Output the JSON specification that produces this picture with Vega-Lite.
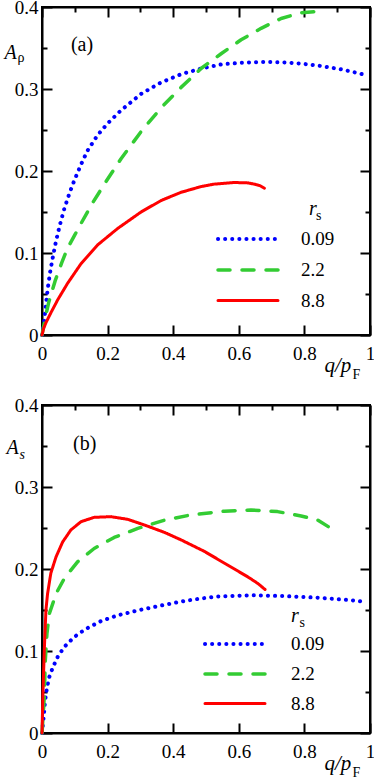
{
 "$schema": "https://vega.github.io/schema/vega-lite/v6.json",
 "padding": {"left": 3, "top": -3, "right": 2, "bottom": 0},
 "background": "white",
 "bounds": "flush",
 "spacing": 70,
 "resolve": {"scale": {"color": "independent", "strokeDash": "independent", "strokeWidth": "independent"}, "legend": {"color": "independent", "strokeDash": "independent", "strokeWidth": "independent"}},
 "datasets": {
  "a": [
   {"rs":"0.09","q":0,"A":0},{"rs":"0.09","q":0.005,"A":0.012},{"rs":"0.09","q":0.007,"A":0.018},{"rs":"0.09","q":0.012,"A":0.037},{"rs":"0.09","q":0.017,"A":0.055},{"rs":"0.09","q":0.024,"A":0.075},{"rs":"0.09","q":0.033,"A":0.095},{"rs":"0.09","q":0.043,"A":0.115},{"rs":"0.09","q":0.055,"A":0.135},{"rs":"0.09","q":0.068,"A":0.154},{"rs":"0.09","q":0.083,"A":0.172},{"rs":"0.09","q":0.098,"A":0.188},{"rs":"0.09","q":0.119,"A":0.208},{"rs":"0.09","q":0.139,"A":0.225},{"rs":"0.09","q":0.17,"A":0.244},{"rs":"0.09","q":0.2,"A":0.258},{"rs":"0.09","q":0.241,"A":0.274},{"rs":"0.09","q":0.302,"A":0.294},{"rs":"0.09","q":0.363,"A":0.308},{"rs":"0.09","q":0.424,"A":0.318},{"rs":"0.09","q":0.485,"A":0.325},{"rs":"0.09","q":0.546,"A":0.33},{"rs":"0.09","q":0.607,"A":0.332},{"rs":"0.09","q":0.668,"A":0.333},{"rs":"0.09","q":0.729,"A":0.3326},{"rs":"0.09","q":0.79,"A":0.331},{"rs":"0.09","q":0.851,"A":0.328},{"rs":"0.09","q":0.912,"A":0.324},{"rs":"0.09","q":0.978,"A":0.318},
   {"rs":"2.2","q":0,"A":0},{"rs":"2.2","q":0.01,"A":0.021},{"rs":"2.2","q":0.02,"A":0.039},{"rs":"2.2","q":0.04,"A":0.066},{"rs":"2.2","q":0.06,"A":0.088},{"rs":"2.2","q":0.078,"A":0.106},{"rs":"2.2","q":0.1,"A":0.122},{"rs":"2.2","q":0.119,"A":0.136},{"rs":"2.2","q":0.154,"A":0.161},{"rs":"2.2","q":0.195,"A":0.187},{"rs":"2.2","q":0.241,"A":0.215},{"rs":"2.2","q":0.302,"A":0.248},{"rs":"2.2","q":0.363,"A":0.277},{"rs":"2.2","q":0.424,"A":0.302},{"rs":"2.2","q":0.485,"A":0.325},{"rs":"2.2","q":0.546,"A":0.343},{"rs":"2.2","q":0.607,"A":0.36},{"rs":"2.2","q":0.668,"A":0.374},{"rs":"2.2","q":0.729,"A":0.386},{"rs":"2.2","q":0.79,"A":0.393},{"rs":"2.2","q":0.851,"A":0.395},
   {"rs":"8.8","q":0,"A":0},{"rs":"8.8","q":0.005,"A":0.008},{"rs":"8.8","q":0.012,"A":0.015},{"rs":"8.8","q":0.027,"A":0.027},{"rs":"8.8","q":0.048,"A":0.043},{"rs":"8.8","q":0.078,"A":0.063},{"rs":"8.8","q":0.119,"A":0.087},{"rs":"8.8","q":0.17,"A":0.11},{"rs":"8.8","q":0.231,"A":0.13},{"rs":"8.8","q":0.302,"A":0.15},{"rs":"8.8","q":0.363,"A":0.164},{"rs":"8.8","q":0.424,"A":0.174},{"rs":"8.8","q":0.485,"A":0.181},{"rs":"8.8","q":0.525,"A":0.184},{"rs":"8.8","q":0.586,"A":0.186},{"rs":"8.8","q":0.627,"A":0.1855},{"rs":"8.8","q":0.647,"A":0.184},{"rs":"8.8","q":0.665,"A":0.182},{"rs":"8.8","q":0.678,"A":0.179}
  ],
  "b": [
   {"rs":"0.09","q":0,"A":0},{"rs":"0.09","q":0.005,"A":0.019},{"rs":"0.09","q":0.009,"A":0.038},{"rs":"0.09","q":0.015,"A":0.055},{"rs":"0.09","q":0.022,"A":0.068},{"rs":"0.09","q":0.033,"A":0.08},{"rs":"0.09","q":0.048,"A":0.093},{"rs":"0.09","q":0.068,"A":0.105},{"rs":"0.09","q":0.098,"A":0.117},{"rs":"0.09","q":0.134,"A":0.127},{"rs":"0.09","q":0.18,"A":0.1365},{"rs":"0.09","q":0.231,"A":0.1435},{"rs":"0.09","q":0.292,"A":0.1495},{"rs":"0.09","q":0.363,"A":0.1555},{"rs":"0.09","q":0.434,"A":0.161},{"rs":"0.09","q":0.485,"A":0.164},{"rs":"0.09","q":0.535,"A":0.1665},{"rs":"0.09","q":0.637,"A":0.168},{"rs":"0.09","q":0.739,"A":0.167},{"rs":"0.09","q":0.84,"A":0.165},{"rs":"0.09","q":0.942,"A":0.162},{"rs":"0.09","q":0.983,"A":0.16},
   {"rs":"2.2","q":0,"A":0},{"rs":"2.2","q":0.007,"A":0.044},{"rs":"2.2","q":0.01,"A":0.088},{"rs":"2.2","q":0.015,"A":0.121},{"rs":"2.2","q":0.022,"A":0.145},{"rs":"2.2","q":0.043,"A":0.17},{"rs":"2.2","q":0.068,"A":0.1885},{"rs":"2.2","q":0.109,"A":0.209},{"rs":"2.2","q":0.159,"A":0.225},{"rs":"2.2","q":0.22,"A":0.2385},{"rs":"2.2","q":0.292,"A":0.2495},{"rs":"2.2","q":0.373,"A":0.2595},{"rs":"2.2","q":0.454,"A":0.266},{"rs":"2.2","q":0.556,"A":0.2705},{"rs":"2.2","q":0.637,"A":0.272},{"rs":"2.2","q":0.718,"A":0.27},{"rs":"2.2","q":0.79,"A":0.2647},{"rs":"2.2","q":0.84,"A":0.2598},{"rs":"2.2","q":0.881,"A":0.2496},
   {"rs":"8.8","q":0,"A":0},{"rs":"8.8","q":0.003,"A":0.05},{"rs":"8.8","q":0.007,"A":0.101},{"rs":"8.8","q":0.012,"A":0.15},{"rs":"8.8","q":0.017,"A":0.17},{"rs":"8.8","q":0.027,"A":0.195},{"rs":"8.8","q":0.043,"A":0.215},{"rs":"8.8","q":0.063,"A":0.233},{"rs":"8.8","q":0.088,"A":0.2476},{"rs":"8.8","q":0.119,"A":0.2577},{"rs":"8.8","q":0.159,"A":0.263},{"rs":"8.8","q":0.21,"A":0.2638},{"rs":"8.8","q":0.261,"A":0.2606},{"rs":"8.8","q":0.312,"A":0.2537},{"rs":"8.8","q":0.373,"A":0.2447},{"rs":"8.8","q":0.424,"A":0.2355},{"rs":"8.8","q":0.495,"A":0.2215},{"rs":"8.8","q":0.566,"A":0.2048},{"rs":"8.8","q":0.627,"A":0.1905},{"rs":"8.8","q":0.658,"A":0.1824},{"rs":"8.8","q":0.68,"A":0.175}
  ]
 },
 "vconcat": [
  {
   "width": 328, "height": 328,
   "layer": [
    {
     "layer": [
      {
       "data": {"name": "a"},
       "mark": {"type": "line", "strokeCap": "round", "strokeJoin": "round"},
       "encoding": {
        "x": {"field": "q", "type": "quantitative", "scale": {"domain": [0, 1], "nice": false, "zero": false},
              "axis": {"orient": "bottom", "values": [0,0.1,0.2,0.3,0.4,0.5,0.6,0.7,0.8,0.9,1],
                       "labelExpr": "round(datum.value*10)%2==0 ? format(datum.value,'~g') : ''",
                       "tickSize": {"condition": {"test": "round(datum.value*10)%2==0", "value": -10}, "value": -5},
                       "labelPadding": 19,
                       "title": "q/p", "titleFontSize": 21, "titleFontStyle": "italic", "titleX": 282, "titleY": 36, "titleAlign": "left", "titleBaseline": "alphabetic", "titleAngle": 0}},
        "y": {"field": "A", "type": "quantitative", "scale": {"domain": [0, 0.4], "nice": false, "zero": false},
              "axis": {"orient": "left", "values": [0,0.05,0.1,0.15,0.2,0.25,0.3,0.35,0.4],
                       "labelExpr": "round(datum.value*20)%2==0 ? format(datum.value,'~g') : ''",
                       "tickSize": {"condition": {"test": "round(datum.value*20)%2==0", "value": -10}, "value": -5},
                       "labelPadding": 14,
                       "title": "A", "titleFontSize": 20, "titleFontStyle": "italic", "titleX": -38, "titleY": 51, "titleAlign": "left", "titleBaseline": "alphabetic", "titleAngle": 0}},
        "color": {"field": "rs", "type": "ordinal", "scale": {"domain": ["0.09","2.2","8.8"], "range": ["#0000ff","#33cc33","#ff0000"]},
                  "legend": {"orient": "none", "legendX": 194, "legendY": 220, "title": null, "symbolType": "M-3,0H3", "symbolSize": 400, "labelFontSize": 19, "labelOffset": 41, "rowPadding": 9, "padding": 0,
                             "encode": {"symbols": {"update": {"strokeCap": {"value": "round"}}}}}},
        "strokeDash": {"field": "rs", "type": "ordinal", "scale": {"domain": ["0.09","2.2","8.8"], "range": [[0.1,7],[12,12],[1,0]]}},
        "strokeWidth": {"field": "rs", "type": "ordinal", "scale": {"domain": ["0.09","2.2","8.8"], "range": [4,3,2.5]}}
       }
      },
      {
       "data": {"values": [{}]},
       "mark": {"type": "text", "text": "r", "fontSize": 20, "fontStyle": "italic", "align": "left", "baseline": "alphabetic"},
       "encoding": {"x": {"datum": 0.814, "type": "quantitative"}, "y": {"datum": 0.146, "type": "quantitative"}}
      },
      {
       "data": {"values": [{}]},
       "mark": {"type": "text", "text": "s", "fontSize": 14, "align": "left", "baseline": "alphabetic"},
       "encoding": {"x": {"datum": 0.835, "type": "quantitative"}, "y": {"datum": 0.14, "type": "quantitative"}}
      }
     ]
    },
    {
     "data": {"values": [{}]},
     "mark": {"type": "text", "text": "(a)", "fontSize": 20, "align": "center", "baseline": "middle"},
     "encoding": {
      "x": {"datum": 0.122, "type": "quantitative", "scale": {"domain": [0, 1], "nice": false, "zero": false},
            "axis": {"orient": "top", "values": [0,0.1,0.2,0.3,0.4,0.5,0.6,0.7,0.8,0.9,1], "labels": false,
                     "tickSize": {"condition": {"test": "round(datum.value*10)%2==0", "value": -10}, "value": -5},
                     "title": "F", "titleFontSize": 14, "titleFontStyle": "normal", "titleX": 310, "titleY": 371, "titleAlign": "left", "titleBaseline": "alphabetic", "titleAngle": 0}},
      "y": {"datum": 0.354, "type": "quantitative", "scale": {"domain": [0, 0.4], "nice": false, "zero": false},
            "axis": {"orient": "right", "values": [0,0.05,0.1,0.15,0.2,0.25,0.3,0.35,0.4], "labels": false,
                     "tickSize": {"condition": {"test": "round(datum.value*20)%2==0", "value": -10}, "value": -5},
                     "title": "ρ", "titleFontSize": 14, "titleFontStyle": "normal", "titleX": -353, "titleY": 54, "titleAlign": "left", "titleBaseline": "alphabetic", "titleAngle": 0}}
     }
    }
   ],
   "resolve": {"scale": {"x": "independent", "y": "independent"}}
  },
  {
   "width": 328, "height": 328,
   "layer": [
    {
     "layer": [
      {
       "data": {"name": "b"},
       "mark": {"type": "line", "strokeCap": "round", "strokeJoin": "round"},
       "encoding": {
        "x": {"field": "q", "type": "quantitative", "scale": {"domain": [0, 1], "nice": false, "zero": false},
              "axis": {"orient": "bottom", "values": [0,0.1,0.2,0.3,0.4,0.5,0.6,0.7,0.8,0.9,1],
                       "labelExpr": "round(datum.value*10)%2==0 ? format(datum.value,'~g') : ''",
                       "tickSize": {"condition": {"test": "round(datum.value*10)%2==0", "value": -10}, "value": -5},
                       "labelPadding": 19,
                       "title": "q/p", "titleFontSize": 21, "titleFontStyle": "italic", "titleX": 282, "titleY": 36, "titleAlign": "left", "titleBaseline": "alphabetic", "titleAngle": 0}},
        "y": {"field": "A", "type": "quantitative", "scale": {"domain": [0, 0.4], "nice": false, "zero": false},
              "axis": {"orient": "left", "values": [0,0.05,0.1,0.15,0.2,0.25,0.3,0.35,0.4],
                       "labelExpr": "round(datum.value*20)%2==0 ? format(datum.value,'~g') : ''",
                       "tickSize": {"condition": {"test": "round(datum.value*20)%2==0", "value": -10}, "value": -5},
                       "labelPadding": 14,
                       "title": "A", "titleFontSize": 20, "titleFontStyle": "italic", "titleX": -36, "titleY": 48, "titleAlign": "left", "titleBaseline": "alphabetic", "titleAngle": 0}},
        "color": {"field": "rs", "type": "ordinal", "scale": {"domain": ["0.09","2.2","8.8"], "range": ["#0000ff","#33cc33","#ff0000"]},
                  "legend": {"orient": "none", "legendX": 181, "legendY": 227, "title": null, "symbolType": "M-3,0H3", "symbolSize": 400, "labelFontSize": 19, "labelOffset": 44, "rowPadding": 8, "padding": 0,
                             "encode": {"symbols": {"update": {"strokeCap": {"value": "round"}}}}}},
        "strokeDash": {"field": "rs", "type": "ordinal", "scale": {"domain": ["0.09","2.2","8.8"], "range": [[0.1,7],[12,12],[1,0]]}},
        "strokeWidth": {"field": "rs", "type": "ordinal", "scale": {"domain": ["0.09","2.2","8.8"], "range": [4,3,2.5]}}
       }
      },
      {
       "data": {"values": [{}]},
       "mark": {"type": "text", "text": "r", "fontSize": 20, "fontStyle": "italic", "align": "left", "baseline": "alphabetic"},
       "encoding": {"x": {"datum": 0.759, "type": "quantitative"}, "y": {"datum": 0.1355, "type": "quantitative"}}
      },
      {
       "data": {"values": [{}]},
       "mark": {"type": "text", "text": "s", "fontSize": 14, "align": "left", "baseline": "alphabetic"},
       "encoding": {"x": {"datum": 0.785, "type": "quantitative"}, "y": {"datum": 0.129, "type": "quantitative"}}
      }
     ]
    },
    {
     "data": {"values": [{}]},
     "mark": {"type": "text", "text": "(b)", "fontSize": 20, "align": "center", "baseline": "middle"},
     "encoding": {
      "x": {"datum": 0.13, "type": "quantitative", "scale": {"domain": [0, 1], "nice": false, "zero": false},
            "axis": {"orient": "top", "values": [0,0.1,0.2,0.3,0.4,0.5,0.6,0.7,0.8,0.9,1], "labels": false,
                     "tickSize": {"condition": {"test": "round(datum.value*10)%2==0", "value": -10}, "value": -5},
                     "title": "F", "titleFontSize": 14, "titleFontStyle": "normal", "titleX": 310, "titleY": 371, "titleAlign": "left", "titleBaseline": "alphabetic", "titleAngle": 0}},
      "y": {"datum": 0.352, "type": "quantitative", "scale": {"domain": [0, 0.4], "nice": false, "zero": false},
            "axis": {"orient": "right", "values": [0,0.05,0.1,0.15,0.2,0.25,0.3,0.35,0.4], "labels": false,
                     "tickSize": {"condition": {"test": "round(datum.value*20)%2==0", "value": -10}, "value": -5},
                     "title": "s", "titleFontSize": 14, "titleFontStyle": "italic", "titleX": -351, "titleY": 53, "titleAlign": "left", "titleBaseline": "alphabetic", "titleAngle": 0}}
     }
    }
   ],
   "resolve": {"scale": {"x": "independent", "y": "independent"}}
  }
 ],
 "config": {
  "font": "Liberation Serif",
  "view": {"stroke": "black", "strokeWidth": 2},
  "axis": {"grid": false, "domain": true, "ticks": true, "domainColor": "black", "domainWidth": 2, "tickColor": "black", "tickWidth": 2,
           "labelFont": "Liberation Serif", "labelFontSize": 19, "labelColor": "black", "labelFlush": false, "labelOverlap": false,
           "titleFont": "Liberation Serif", "titleColor": "black", "titleFontWeight": "normal"},
  "legend": {"labelFont": "Liberation Serif", "labelColor": "black"},
  "text": {"color": "black", "font": "Liberation Serif"}
 }
}
